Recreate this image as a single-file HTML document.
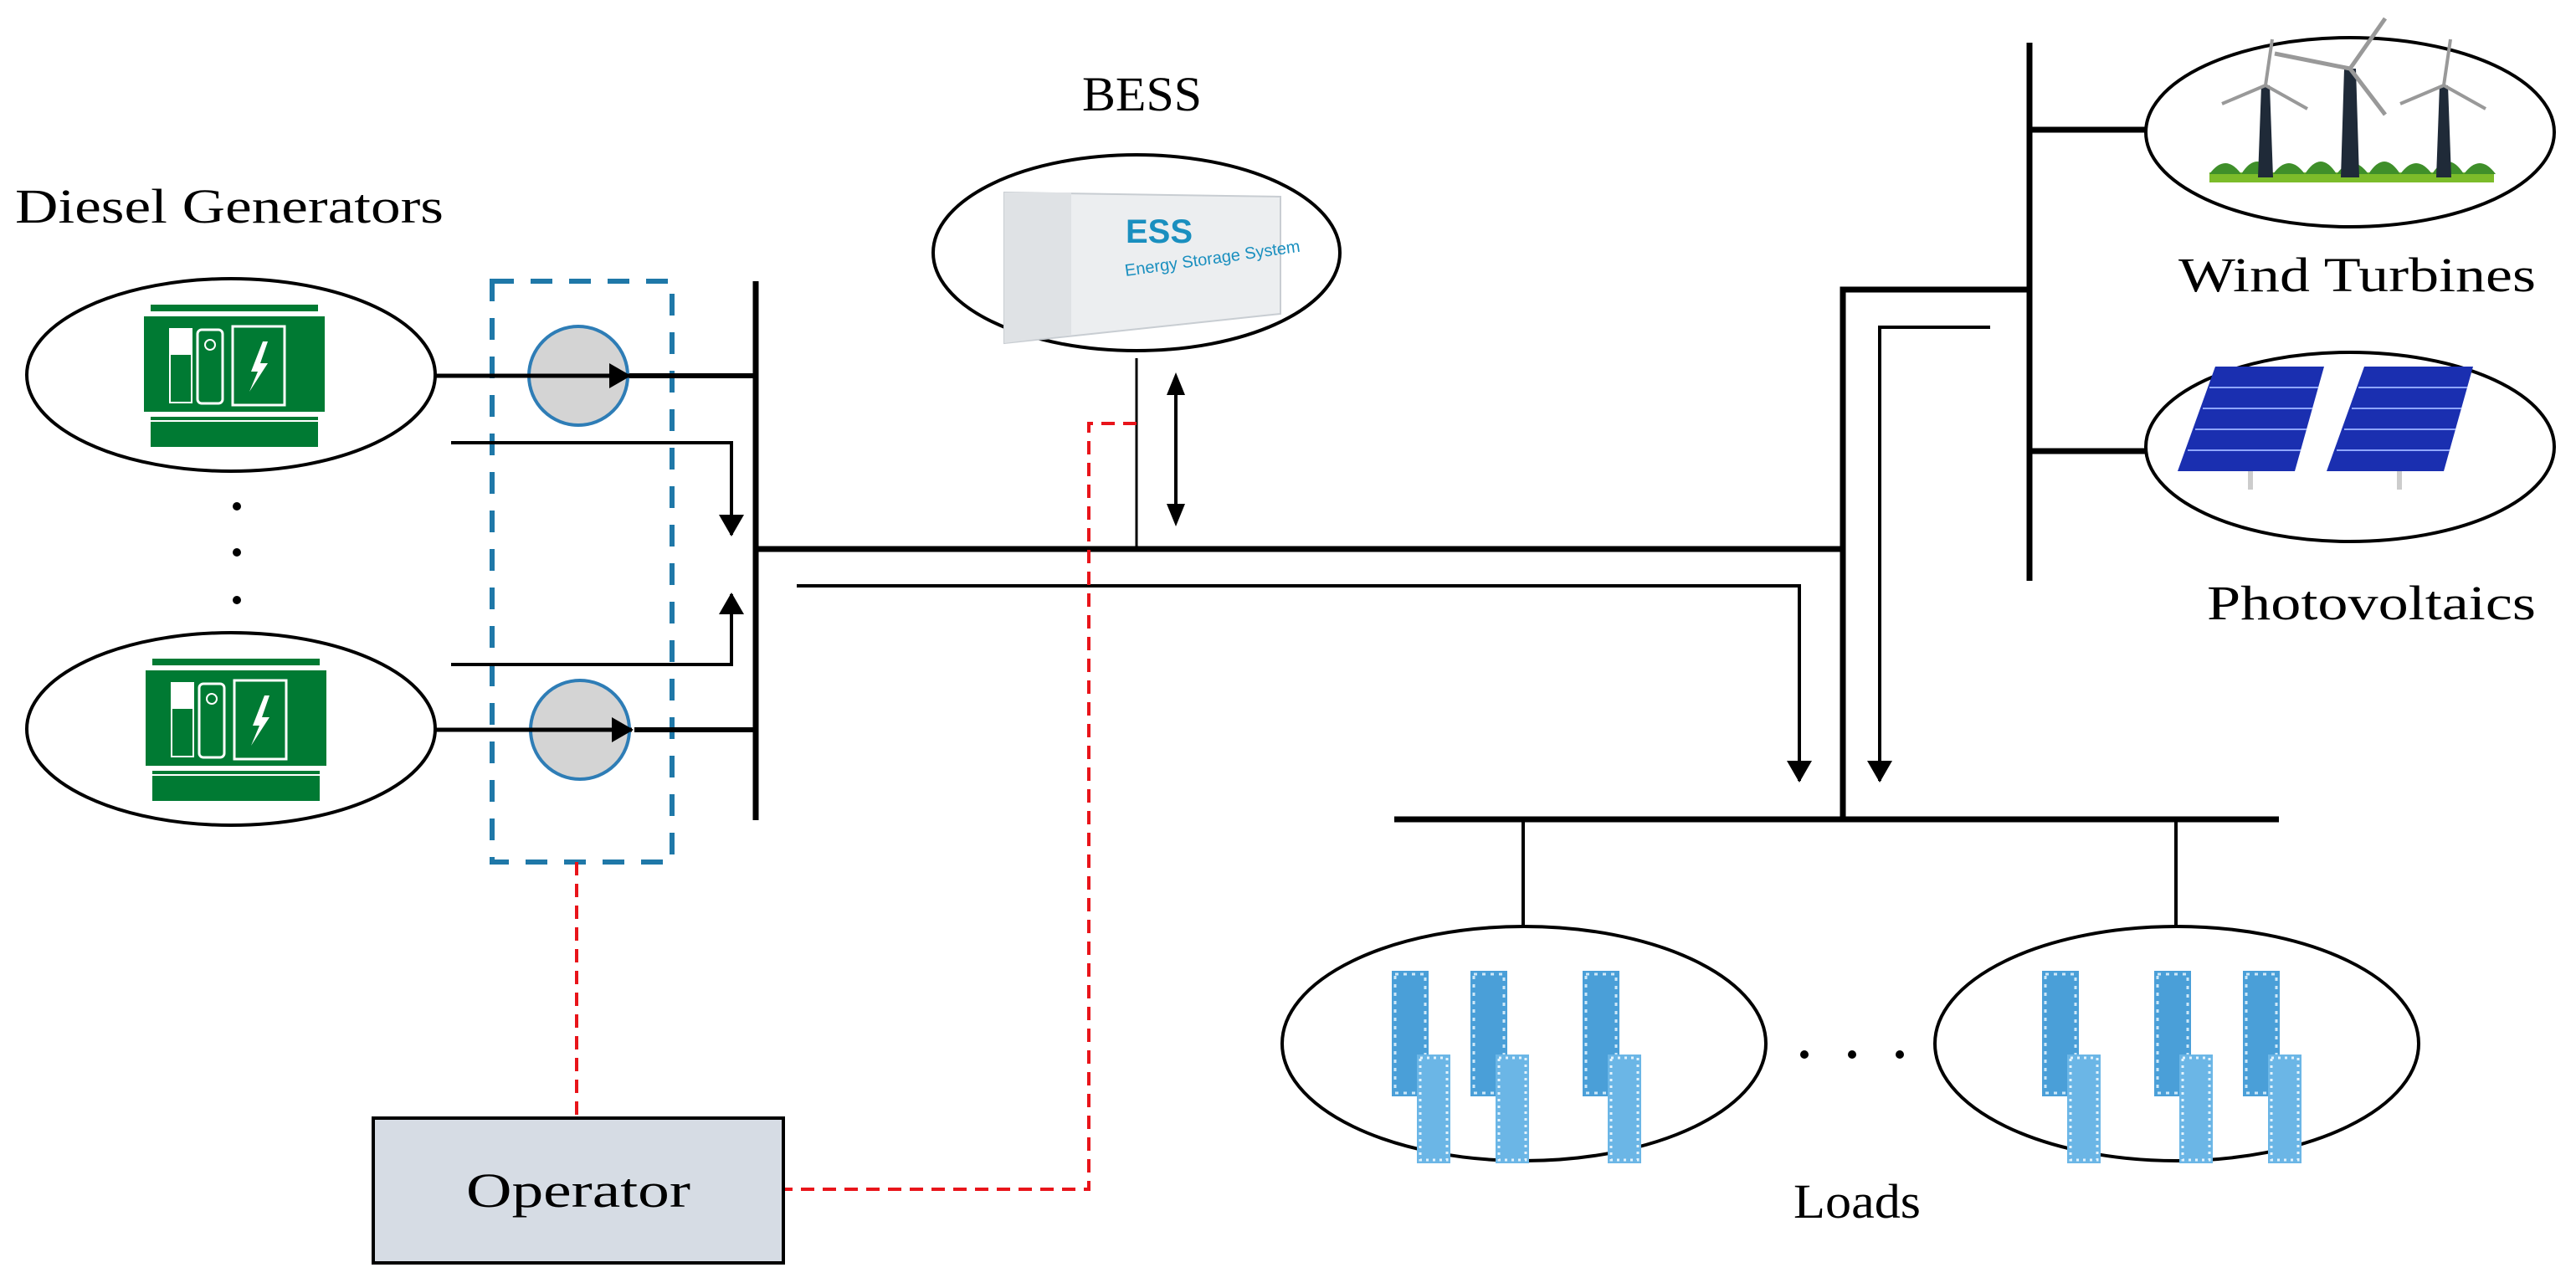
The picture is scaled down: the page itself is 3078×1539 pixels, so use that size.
<!DOCTYPE html>
<html><head><meta charset="utf-8"><style>html,body{margin:0;padding:0;background:#fff}svg{display:block}</style></head>
<body>
<svg width="3078" height="1539" viewBox="0 0 3078 1539" xmlns="http://www.w3.org/2000/svg" font-family="'Liberation Serif', serif">
<defs>
<marker id="ahb" markerWidth="26" markerHeight="30" refX="24" refY="15" orient="auto" markerUnits="userSpaceOnUse" viewBox="0 0 26 30"><path d="M0,0 L26,15 L0,30 z" fill="#000"/></marker>
<g id="gen">
<rect x="0" y="0" width="200" height="8" fill="#007a33"/>
<rect x="-8" y="14" width="216" height="114" fill="#007a33"/>
<rect x="22" y="28" width="28" height="90" fill="#fff"/>
<rect x="24" y="60" width="24" height="56" fill="#007a33"/>
<rect x="56" y="30" width="30" height="88" rx="5" fill="none" stroke="#fff" stroke-width="3"/>
<circle cx="71" cy="48" r="6" fill="none" stroke="#fff" stroke-width="2"/>
<rect x="98" y="26" width="62" height="94" fill="none" stroke="#fff" stroke-width="3"/>
<path d="M134,44 L120,80 L128,80 L118,104 L140,70 L131,70 L140,44z" fill="#fff"/>
<rect x="0" y="134" width="200" height="36" fill="#007a33"/>
<rect x="0" y="138" width="200" height="2" fill="#fff"/>
</g>
<g id="bld">
<rect x="0" y="0" width="44" height="150" fill="#4a9fd8"/>
<rect x="4" y="4" width="36" height="142" fill="none" stroke="#cfe8f8" stroke-width="3" stroke-dasharray="4 6"/>
<rect x="30" y="100" width="40" height="130" fill="#6bb6e6"/>
<rect x="34" y="104" width="32" height="122" fill="none" stroke="#e4f3fc" stroke-width="3" stroke-dasharray="3 5"/>
</g>
<g id="pv">
<polygon points="45,0 175,0 140,125 0,125" fill="#1a2fb0"/>
<g stroke="#8fa6ff" stroke-width="2"><line x1="38" y1="25" x2="168" y2="25"/><line x1="30" y1="50" x2="161" y2="50"/><line x1="21" y1="75" x2="154" y2="75"/><line x1="12" y1="100" x2="147" y2="100"/></g>
<rect x="84" y="125" width="6" height="22" fill="#ccc"/>
</g>
<g id="wt">
<polygon points="-5,0 5,0 9,110 -9,110" fill="#1f2a38"/>
<g stroke="#999" stroke-width="4"><line x1="0" y1="0" x2="8" y2="-55"/><line x1="0" y1="0" x2="-52" y2="22"/><line x1="0" y1="0" x2="50" y2="28"/></g>
</g>
<g id="wtb">
<polygon points="-7,0 7,0 11,130 -11,130" fill="#1f2a38"/>
<g stroke="#999" stroke-width="5"><line x1="0" y1="0" x2="42" y2="-60"/><line x1="0" y1="0" x2="-90" y2="-18"/><line x1="0" y1="0" x2="42" y2="55"/></g>
</g>
</defs>

<text x="18" y="266" font-size="58" textLength="512" lengthAdjust="spacingAndGlyphs">Diesel Generators</text>
<text x="1293" y="132" font-size="58" textLength="143" lengthAdjust="spacingAndGlyphs">BESS</text>
<text x="2603" y="348" font-size="58" textLength="427" lengthAdjust="spacingAndGlyphs">Wind Turbines</text>
<text x="2637" y="740" font-size="58" textLength="393" lengthAdjust="spacingAndGlyphs">Photovoltaics</text>
<text x="2143" y="1455" font-size="58" textLength="152" lengthAdjust="spacingAndGlyphs">Loads</text>

<ellipse cx="276" cy="448" rx="244" ry="115" fill="#fff" stroke="#000" stroke-width="4"/>
<ellipse cx="276" cy="871" rx="244" ry="115" fill="#fff" stroke="#000" stroke-width="4"/>
<use href="#gen" x="180" y="364"/>
<use href="#gen" x="182" y="787"/>
<g fill="#000"><circle cx="283" cy="605" r="5"/><circle cx="283" cy="660" r="5"/><circle cx="283" cy="717" r="5"/></g>

<rect x="588" y="336" width="215" height="694" fill="none" stroke="#1f78a8" stroke-width="6" stroke-dasharray="26 20"/>

<circle cx="691" cy="449" r="59" fill="#d4d4d4" stroke="#2e7db6" stroke-width="4"/>
<circle cx="693" cy="872" r="59" fill="#d4d4d4" stroke="#2e7db6" stroke-width="4"/>
<line x1="520" y1="449" x2="752" y2="449" stroke="#000" stroke-width="5" marker-end="url(#ahb)"/>
<line x1="520" y1="872" x2="755" y2="872" stroke="#000" stroke-width="5" marker-end="url(#ahb)"/>
<line x1="752" y1="449" x2="903" y2="449" stroke="#000" stroke-width="6"/>
<line x1="758" y1="872" x2="903" y2="872" stroke="#000" stroke-width="6"/>

<line x1="903" y1="336" x2="903" y2="980" stroke="#000" stroke-width="7"/>
<polyline points="539,529 874,529 874,639" fill="none" stroke="#000" stroke-width="4" marker-end="url(#ahb)"/>
<polyline points="539,794 874,794 874,710" fill="none" stroke="#000" stroke-width="4" marker-end="url(#ahb)"/>

<line x1="903" y1="656" x2="2202" y2="656" stroke="#000" stroke-width="7"/>
<polyline points="952,700 2150,700 2150,933" fill="none" stroke="#000" stroke-width="4" marker-end="url(#ahb)"/>
<polyline points="2202,980 2202,346 2425,346" fill="none" stroke="#000" stroke-width="7"/>
<polyline points="2378,391 2246,391 2246,933" fill="none" stroke="#000" stroke-width="4" marker-end="url(#ahb)"/>

<line x1="2425" y1="51" x2="2425" y2="694" stroke="#000" stroke-width="7"/>
<line x1="2425" y1="155" x2="2564" y2="155" stroke="#000" stroke-width="7"/>
<line x1="2425" y1="539" x2="2564" y2="539" stroke="#000" stroke-width="7"/>
<ellipse cx="2808" cy="158" rx="244" ry="113" fill="#fff" stroke="#000" stroke-width="4"/>
<ellipse cx="2808" cy="534" rx="244" ry="113" fill="#fff" stroke="#000" stroke-width="4"/>
<rect x="2640" y="206" width="340" height="12" fill="#7cbc2a"/>
<path d="M2640,208 q19,-26 38,0 q19,-30 38,0 q19,-26 38,0 q19,-30 38,0 q19,-26 38,0 q19,-30 38,0 q19,-26 38,0 q19,-30 38,0 q19,-26 38,0z" fill="#3f8f2a"/>
<use href="#wt" x="2707" y="102"/>
<use href="#wtb" x="2808" y="82"/>
<use href="#wt" x="2920" y="102"/>
<use href="#pv" x="2602" y="438"/>
<use href="#pv" x="2780" y="438"/>

<ellipse cx="1358" cy="302" rx="243" ry="117" fill="#fff" stroke="#000" stroke-width="4"/>
<polygon points="1200,230 1530,235 1530,375 1200,410" fill="#eceef0" stroke="#c8cdd2" stroke-width="2"/>
<polygon points="1200,230 1280,230 1280,400 1200,410" fill="#dfe2e5"/>
<text x="1345" y="290" font-family="'Liberation Sans', sans-serif" font-weight="bold" font-size="40" fill="#1a8fbf">ESS</text>
<text x="1345" y="330" font-family="'Liberation Sans', sans-serif" font-size="20" fill="#1a8fbf" transform="rotate(-8 1345 330)">Energy Storage System</text>
<line x1="1358" y1="428" x2="1358" y2="653" stroke="#000" stroke-width="3"/>
<line x1="1405" y1="470" x2="1405" y2="605" stroke="#000" stroke-width="4"/>
<polygon points="1405,445 1394,472 1416,472" fill="#000"/>
<polygon points="1405,629 1394,602 1416,602" fill="#000"/>

<polyline points="1358,506 1301,506 1301,1421 936,1421" fill="none" stroke="#e8141a" stroke-width="4" stroke-dasharray="16 10"/>
<line x1="689" y1="1030" x2="689" y2="1336" stroke="#e8141a" stroke-width="4" stroke-dasharray="16 10"/>

<rect x="446" y="1336" width="490" height="173" fill="#d6dce4" stroke="#000" stroke-width="4"/>
<text x="691" y="1442" font-size="58" text-anchor="middle" textLength="268" lengthAdjust="spacingAndGlyphs">Operator</text>

<line x1="1666" y1="979" x2="2723" y2="979" stroke="#000" stroke-width="7"/>
<line x1="1820" y1="979" x2="1820" y2="1107" stroke="#000" stroke-width="4"/>
<line x1="2600" y1="979" x2="2600" y2="1107" stroke="#000" stroke-width="4"/>
<ellipse cx="1821" cy="1247" rx="289" ry="140" fill="#fff" stroke="#000" stroke-width="4"/>
<ellipse cx="2601" cy="1247" rx="289" ry="140" fill="#fff" stroke="#000" stroke-width="4"/>
<use href="#bld" x="1663" y="1160"/>
<use href="#bld" x="1757" y="1160"/>
<use href="#bld" x="1891" y="1160"/>
<use href="#bld" x="2440" y="1160"/>
<use href="#bld" x="2574" y="1160"/>
<use href="#bld" x="2680" y="1160"/>
<g fill="#000"><circle cx="2156" cy="1260" r="5"/><circle cx="2213" cy="1260" r="5"/><circle cx="2270" cy="1260" r="5"/></g>
</svg>
</body></html>
